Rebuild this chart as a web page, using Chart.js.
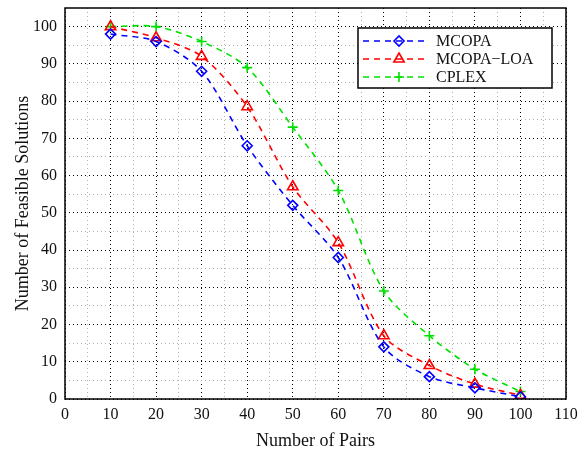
<!DOCTYPE html>
<html>
<head>
<meta charset="utf-8">
<script src="https://cdn.jsdelivr.net/npm/chart.js@4"></script>
<style>
  html, body { margin: 0; padding: 0; background: #fff; }
  #wrap { width: 579px; height: 454px; }
</style>
</head>
<body>
<div id="wrap"><canvas id="chart" width="579" height="454"></canvas></div>
<script>
// dados
const pares = [10, 20, 30, 40, 50, 60, 70, 80, 90, 100];
const mcopa = [98, 96, 88, 68, 52, 38, 14, 6, 3, 0.6];
const mcopaLoa = [100, 97, 92, 78.5, 57, 42, 17, 9, 4, 1];
const cplex = [100, 100, 96, 89, 73, 56, 29, 17, 8, 2];

const series = [
  { label: "MCOPA", data: mcopa, color: "#0000ff", style: "rectRot", radius: 5 },
  { label: "MCOPA\u2212LOA", data: mcopaLoa, color: "#ff0000", style: "triangle", radius: 6 },
  { label: "CPLEX", data: cplex, color: "#00e000", style: "cross", radius: 5 }
];

const fonte = "'Liberation Serif', 'Times New Roman', serif";

// moldura em volta da área do gráfico
const moldura = {
  id: "moldura",
  afterDraw(chart) {
    const { ctx, chartArea: a } = chart;
    ctx.save();
    ctx.strokeStyle = "#000";
    ctx.lineWidth = 1.5;
    ctx.strokeRect(a.left, a.top, a.right - a.left, a.bottom - a.top);
    ctx.restore();
  }
};

// legenda no estilo do MATLAB
const legenda = {
  id: "legenda",
  afterDraw(chart) {
    const ctx = chart.ctx;
    const x0 = 358, y0 = 28, w = 194, h = 60;
    ctx.save();
    ctx.fillStyle = "#fff";
    ctx.fillRect(x0, y0, w, h);
    ctx.strokeStyle = "#000";
    ctx.lineWidth = 1.5;
    ctx.strokeRect(x0, y0, w, h);
    series.forEach((s, i) => {
      const y = y0 + 13 + i * 18;
      ctx.strokeStyle = s.color;
      ctx.lineWidth = 1.6;
      ctx.setLineDash([6, 5]);
      ctx.beginPath();
      ctx.moveTo(x0 + 5, y);
      ctx.lineTo(x0 + 70, y);
      ctx.stroke();
      ctx.setLineDash([]);
      ctx.fillStyle = "rgba(0,0,0,0)";
      Chart.helpers.drawPoint(ctx, { pointStyle: s.style, radius: s.radius, borderWidth: 1.6, rotation: 0 }, x0 + 41, y);
      ctx.fillStyle = "#111";
      ctx.font = "16px " + fonte;
      ctx.textAlign = "left";
      ctx.textBaseline = "middle";
      ctx.fillText(s.label, x0 + 78, y + 1);
    });
    ctx.restore();
  }
};

const corGrade = ctx => (ctx.tick && ctx.tick.value % 10 === 0) ? "#000" : "#b0b0b0";

new Chart(document.getElementById("chart"),
{
  type: "line",
  data:
  {
    labels: pares,
    datasets: series.map(s => ({
      label: s.label,
      data: s.data.map((v, i) => ({ x: pares[i], y: v })),
      borderColor: s.color,
      backgroundColor: "rgba(0,0,0,0)",
      borderWidth: 1.6,
      borderDash: [6, 5],
      pointStyle: s.style,
      pointRadius: s.radius,
      pointBorderWidth: 1.6,
      pointBorderColor: s.color,
      pointBackgroundColor: "rgba(0,0,0,0)",
      tension: 0.3,
      fill: false
    }))
  },
  options:
  {
    responsive: false,
    animation: false,
    layout: { padding: { top: 8, right: 13, left: 0, bottom: 0 } },
    plugins:
    {
      legend: { display: false },
      tooltip: { enabled: false }
    },
    scales:
    {
      x:
      {
        type: "linear",
        min: 0,
        max: 110,
        afterFit: scale => {
          scale.height = 55;
          scale.paddingLeft = 0;
          scale.paddingRight = 0;
        },
        ticks:
        {
          stepSize: 5,
          padding: 6,
          color: "#111",
          font: { family: fonte, size: 16 },
          maxRotation: 0,
          autoSkip: false,
          callback: v => (v % 10 === 0 ? v : "")
        },
        grid: { color: corGrade, lineWidth: 1, drawTicks: false },
        border: { display: false, dash: [1, 3] },
        title:
        {
          display: true,
          text: "Number of Pairs",
          color: "#111",
          font: { family: fonte, size: 18 },
          padding: { top: 0, bottom: 2 }
        }
      },
      y:
      {
        min: 0,
        max: 105,
        afterFit: scale => {
          scale.width = 65;
          scale.paddingTop = 0;
          scale.paddingBottom = 0;
        },
        afterBuildTicks: scale => { scale.ticks = scale.ticks.filter(t => t.value <= 100); },
        ticks:
        {
          stepSize: 5,
          padding: 8,
          color: "#111",
          font: { family: fonte, size: 16 },
          autoSkip: false,
          callback: v => (v % 10 === 0 ? v : "")
        },
        grid: { color: corGrade, lineWidth: 1, drawTicks: false },
        border: { display: false, dash: [1, 3] },
        title:
        {
          display: true,
          text: "Number of Feasible Solutions",
          color: "#111",
          font: { family: fonte, size: 18 },
          padding: { top: 12, bottom: 0 }
        }
      }
    }
  },
  plugins: [moldura, legenda]
});
</script>
</body>
</html>
